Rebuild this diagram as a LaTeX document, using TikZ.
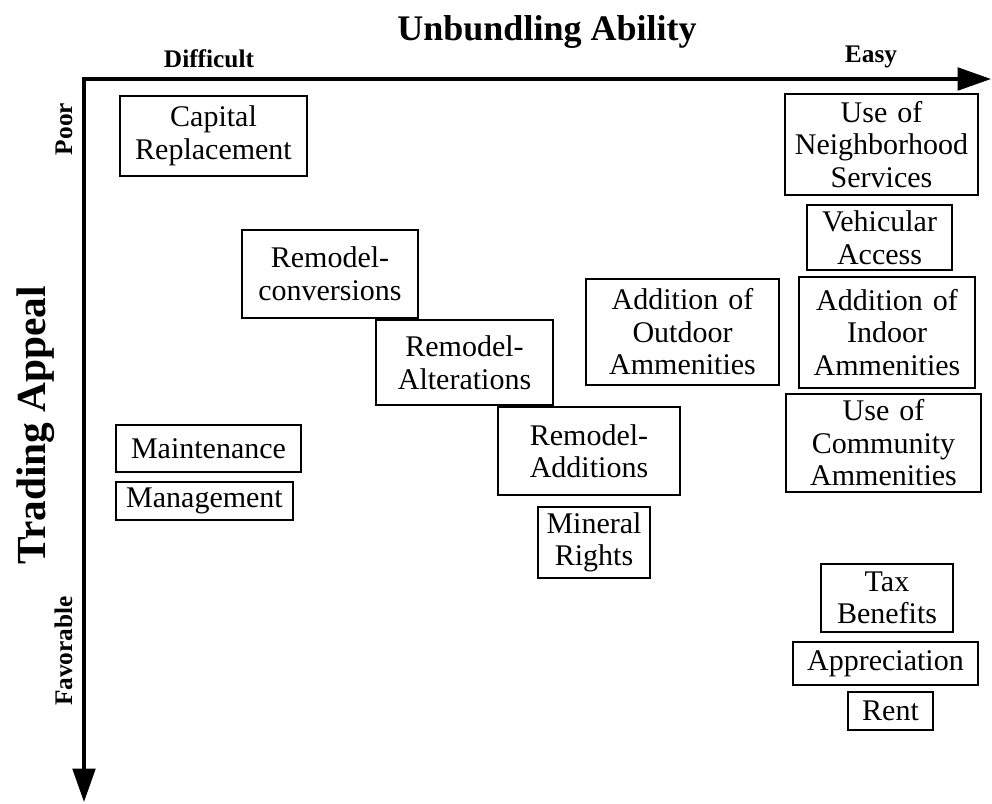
\documentclass[tikz,border=0pt]{standalone}
\usepackage{fontspec}
\setmainfont{Liberation Serif}
\usetikzlibrary{arrows.meta}

\newcommand{\boxfont}{\fontsize{22.5}{24.4}\selectfont}
\newcommand{\headfont}{\fontsize{27}{30}\selectfont\bfseries}
\newcommand{\sideheadfont}{\fontsize{31}{34}\selectfont\bfseries}
\newcommand{\tipfont}{\fontsize{19}{22}\selectfont\bfseries}

\tikzset{
  bx/.style 2 args={draw, line width=2.1pt, inner sep=0pt, align=center,
    font=\boxfont, text width=#1pt, minimum width=#1pt, minimum height=#2pt},
  axisline/.style={line width=2.3pt,
    {Triangle[length=25pt,width=17pt]}-{Triangle[length=25pt,width=17pt]}},
  endlabel/.style={font=\tipfont, inner sep=0pt}
}

\begin{document}
\begin{tikzpicture}[x=0.75pt, y=-0.75pt]
\useasboundingbox (0,0) rectangle (992,803);

% axes
\coordinate (origin) at (84,79);
\coordinate (xend) at (991,79);
\coordinate (yend) at (84,802);
\draw[axisline] (yend) -- (origin) -- (xend);

% axis titles and end labels
\node[font=\headfont, inner sep=0pt, anchor=base] (xtitle) at (547,40) {Unbundling Ability};
\node[font=\sideheadfont, inner sep=0pt, anchor=base, rotate=90] (ytitle) at (45,425) {Trading Appeal};
\node[endlabel, anchor=base] (difficult) at (209,67) {Difficult};
\node[endlabel, anchor=base] (easy) at (871,62) {Easy};
\node[endlabel, anchor=base, rotate=90] (poor) at (72,129) {Poor};
\node[endlabel, anchor=base, rotate=90] (favorable) at (72,651) {Favorable};

% items
\node[bx={140.25}{60}]    (capital)  at (213.5,136)  {Capital\\Replacement};
\node[bx={132}{66}]       (rconv)    at (330,274)    {Remodel-\\conversions};
\node[bx={132.75}{63.75}] (ralt)     at (464.5,362.5){Remodel-\\Alterations};
\node[bx={136.5}{66}]     (radd)     at (589,451)    {Remodel-\\Additions};
\node[bx={84}{53.25}]     (mineral)  at (594,542.5)  {Mineral\\Rights};
\node[bx={144.75}{79.5}]  (outdoor)  at (682.5,332)  {Addition of\\Outdoor\\Ammenities};
\node[bx={138.75}{35.25}] (maint)    at (208.5,448.5){Maintenance};
\node[bx={132.75}{28.5}]  (mgmt)     at (204.5,501)  {Management};
\node[bx={144.75}{75.75}] (neigh)    at (881.5,144.5){Use of\\Neighborhood\\Services};
\node[bx={108.75}{48.75}] (vehicle)  at (879.5,237.5){Vehicular\\Access};
\node[bx={132}{83.25}]    (indoor)   at (887,332.5)  {Addition of\\Indoor\\Ammenities};
\node[bx={146.25}{73.5}]  (community)at (883.5,443)  {Use of\\Community\\Ammenities};
\node[bx={99}{51}]        (tax)      at (887,598)    {Tax\\Benefits};
\node[bx={138.75}{32.25}] (apprec)   at (885.5,663.5){Appreciation};
\node[bx={63.75}{28.5}]   (rent)     at (890.5,711)  {Rent};
\end{tikzpicture}
\end{document}
